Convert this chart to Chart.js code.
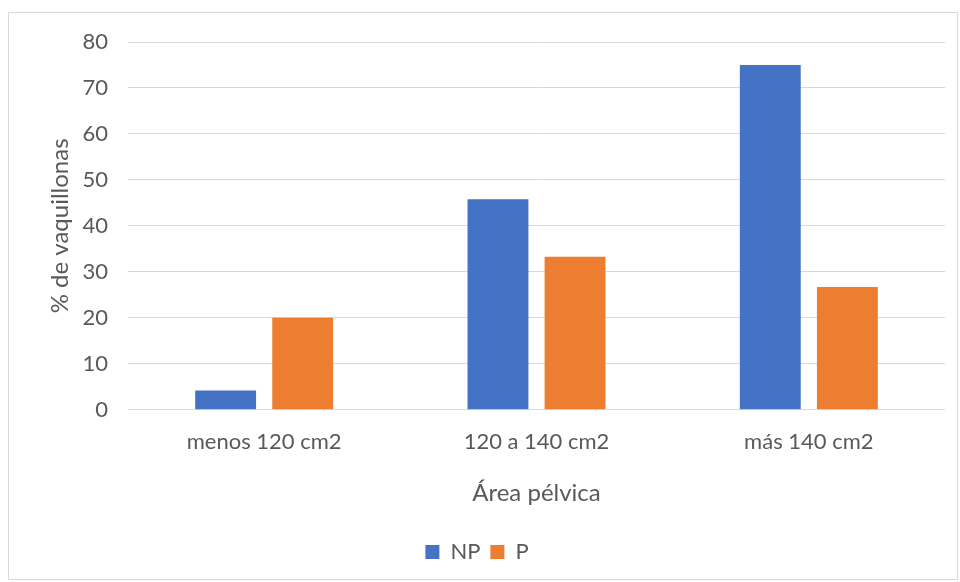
<!DOCTYPE html>
<html lang="es">
<head>
    <meta charset="UTF-8">
    <title>Área pélvica</title>
    <script src="https://cdn.jsdelivr.net/npm/chart.js@4.4.1/dist/chart.umd.min.js"></script>
    <style>
        body { margin: 0; background: #fff; }
        #marco {
            position: absolute; left: 8px; top: 12px;
            width: 950px; height: 568px;
            border: 1px solid #d9d9d9; box-sizing: border-box;
        }
    </style>
</head>
<body>
<div id="marco">
    <canvas id="grafico"></canvas>
</div>
<script>
    var categorias = ["menos 120 cm2", "120 a 140 cm2", "más 140 cm2"];
    var np = [4.2, 45.8, 75];
    var p = [20, 33.3, 26.7];
    var ticksY = [0, 10, 20, 30, 40, 50, 60, 70, 80];

    var gris = "#595959";
    var fuente = "Lato";
    Chart.defaults.font.family = fuente;
    Chart.defaults.color = gris;

    var ctx = document.getElementById("grafico");
    var grafico = new Chart(ctx, {
        type: "bar",
        data: {
            labels: categorias,
            datasets: [
                {
                    label: "NP",
                    data: np,
                    backgroundColor: "#4472C4",
                    categoryPercentage: 0.566,
                    barPercentage: 0.79
                },
                {
                    label: "P",
                    data: p,
                    backgroundColor: "#ED7D31",
                    categoryPercentage: 0.566,
                    barPercentage: 0.79
                }
            ]
        },
        options: {
            responsive: true,
            maintainAspectRatio: false,
            animation: false,
            layout: { padding: { top: 29, right: 12, bottom: 6, left: 0 } },
            plugins: {
                tooltip: { enabled: false },
                legend: {
                    position: "bottom",
                    labels: {
                        boxWidth: 14,
                        boxHeight: 14,
                        padding: 10,
                        font: { size: 22 },
                        color: gris
                    }
                }
            },
            scales: {
                x: {
                    grid: { display: false, drawTicks: false },
                    border: { display: false },
                    ticks: { padding: 19, font: { size: 22 }, color: gris },
                    title: {
                        display: true,
                        text: "Área pélvica",
                        font: { size: 24 },
                        color: gris,
                        padding: { top: 5, bottom: 23 }
                    }
                },
                y: {
                    min: 0,
                    max: 80,
                    afterBuildTicks: function (scale) {
                        scale.ticks = ticksY.map(function (v) { return { value: v }; });
                    },
                    afterFit: function (scale) { scale.width = 119; },
                    grid: { color: "#d9d9d9", lineWidth: 1, drawTicks: true, tickLength: 20, tickColor: "rgba(0,0,0,0)" },
                    border: { display: false },
                    ticks: { padding: 0, font: { size: 22 }, color: gris },
                    title: {
                        display: true,
                        text: "% de vaquillonas",
                        font: { size: 24 },
                        color: gris,
                        padding: { top: 37, bottom: 0 }
                    }
                }
            }
        }
    });
</script>
</body>
</html>
